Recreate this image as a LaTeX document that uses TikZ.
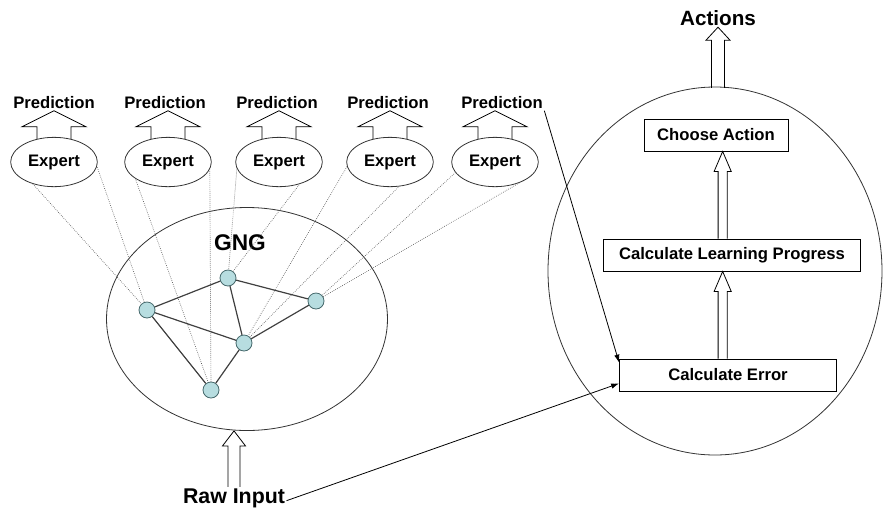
\documentclass[tikz,border=0pt]{standalone}
\usepackage{fontspec}
\setmainfont{Liberation Sans}
\usetikzlibrary{shapes.geometric,arrows.meta,calc}

% hollow block arrow pointing up: foot, tip, half shaft, half head, head length
\newcommand{\hollowup}[5]{%
  \draw[hollow] let \p1=(#1), \p2=(#2) in
    (\x2-#3,\y1) -- (\x2-#3,\y2-#5) -- (\x2-#4,\y2-#5) -- (\x2,\y2)
    -- (\x2+#4,\y2-#5) -- (\x2+#3,\y2-#5) -- (\x2+#3,\y1);
}

\definecolor{unitfill}{RGB}{183,221,224}
\definecolor{unitline}{RGB}{70,105,108}

\begin{document}
\begin{tikzpicture}[x=0.75pt,y=-0.75pt,
  boldtext/.style={font=\bfseries\fontsize{12.5}{13}\selectfont, inner sep=1pt},
  expert/.style={ellipse, draw=black!80, line width=0.6pt, minimum width=65pt, minimum height=37pt, inner sep=0pt, boldtext},
  region/.style={ellipse, draw=black!80, line width=0.6pt, inner sep=0pt},
  stepbox/.style={draw=black, line width=0.6pt, minimum height=24pt, inner sep=0pt, boldtext},
  neuron/.style={circle, draw=unitline, fill=unitfill, line width=0.6pt, minimum size=12pt, inner sep=0pt},
  link/.style={draw=black!75, line width=0.9pt},
  cone/.style={draw=black!65, densely dotted, line width=0.5pt},
  hollow/.style={draw=black, line width=0.6pt},
  feed/.style={draw=black, line width=0.6pt, -{Latex[length=6pt,width=4pt]}}]
  \useasboundingbox (0,0) rectangle (883,512);

  % draw the two big regions
  \node[region, minimum width=210.75pt, minimum height=167.25pt] (gng) at (247,319) {};
  \node[region, minimum width=250.5pt, minimum height=276pt] (ctrl) at (715,271) {};
  \node[boldtext, font=\bfseries\fontsize{17}{17}\selectfont] (gng_label) at (240,243) {GNG};

  % draw experts and their predictions
  \node[expert] (expert1) at (54,162) {Expert};
  \node[expert] (expert2) at (168,162) {Expert};
  \node[expert] (expert3) at (279,162) {Expert};
  \node[expert] (expert4) at (390,162) {Expert};
  \node[expert] (expert5) at (495,162) {Expert};
  \node[boldtext] (pred1) at (54,103) {Prediction};
  \node[boldtext] (pred2) at (165,103) {Prediction};
  \node[boldtext] (pred3) at (277,103) {Prediction};
  \node[boldtext] (pred4) at (388,103) {Prediction};
  \node[boldtext] (pred5) at (502,103) {Prediction};
  \foreach \i in {1,...,5}
    \hollowup{[yshift=-1.5pt]expert\i.north}{expert\i.north |- pred\i.south}{12.75pt}{24pt}{12pt};

  % draw the gng units
  \node[neuron] (unit1) at (147,310) {};
  \node[neuron] (unit2) at (228,278) {};
  \node[neuron] (unit3) at (316,301) {};
  \node[neuron] (unit4) at (244,343) {};
  \node[neuron] (unit5) at (211,390) {};
  % dotted cones from experts to units
  \draw[cone] (expert1.226) -- (unit1) -- (expert1.354);
  \draw[cone] (expert2.207) -- (unit5) -- (expert2.350);
  \draw[cone] (expert3.189) -- (unit2) -- (expert3.313);
  \draw[cone] (expert4.186) -- (unit4) -- (expert4.290);
  \draw[cone] (expert5.195) -- (unit3) -- (expert5.320);
  \draw[link] (unit1) -- (unit2);
  \draw[link] (unit1) -- (unit4);
  \draw[link] (unit1) -- (unit5);
  \draw[link] (unit2) -- (unit3);
  \draw[link] (unit2) -- (unit4);
  \draw[link] (unit4) -- (unit3);
  \draw[link] (unit4) -- (unit5);

  % draw the control boxes
  \node[stepbox, minimum width=108pt] (choose) at (716,135) {Choose Action};
  \node[stepbox, minimum width=192.75pt] (progress) at (732,255) {Calculate Learning Progress};
  \node[stepbox, minimum width=162.75pt] (error) at (728,375) {Calculate Error};
  \hollowup{progress.north}{[xshift=5pt]choose.south}{3.4pt}{6.4pt}{15pt}
  \hollowup{error.north}{[xshift=5pt]choose.south |- progress.south}{3.4pt}{6.4pt}{15pt}

  % inputs and outputs
  \node[boldtext, font=\bfseries\fontsize{15.5}{16}\selectfont] (actions) at (718,18) {Actions};
  \hollowup{[yshift=-1pt]ctrl.north}{actions.south}{4.9pt}{9pt}{9.75pt}
  \node[boldtext, font=\bfseries\fontsize{16}{16}\selectfont] (raw) at (234,498) {Raw Input};
  \hollowup{raw.north}{raw.north |- gng.south}{4.5pt}{8.6pt}{11.25pt}
  \draw[feed] (pred5.south east) -- ([yshift=-3pt]error.north west);
  \draw[feed] ([yshift=-2pt]raw.east) -- ([yshift=6pt]error.south west);
\end{tikzpicture}
\end{document}
